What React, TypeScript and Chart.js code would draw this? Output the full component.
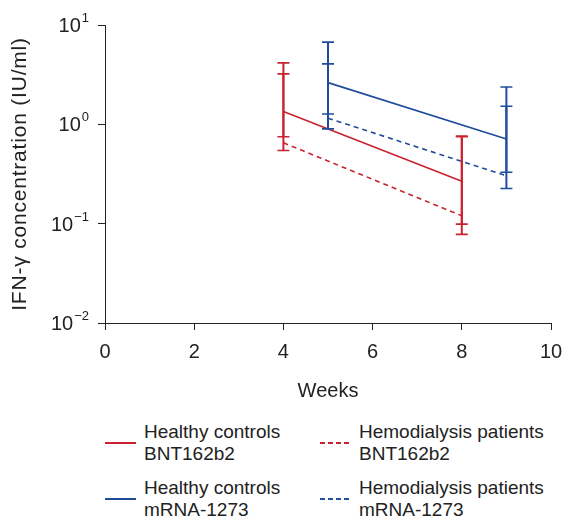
import React, { useEffect, useRef } from "react";
import { Chart, registerables } from "chart.js";

Chart.register(...registerables);

// ---- data ----
const weeksBNT = [4, 8];
const weeksMRNA = [5, 9];

const hcBNT = [1.35, 0.267];
const hcBNTLow = [0.545, 0.099];
const hcBNTHigh = [3.22, 0.75];

const hdBNT = [0.652, 0.12];
const hdBNTLow = [0.75, 0.078];
const hdBNTHigh = [4.16, 0.76];

const hcMRNA = [2.63, 0.71];
const hcMRNALow = [1.27, 0.329];
const hcMRNAHigh = [6.73, 2.38];

const hdMRNA = [1.15, 0.304];
const hdMRNALow = [0.9, 0.226];
const hdMRNAHigh = [4.06, 1.52];

const xTicks = [0, 2, 4, 6, 8, 10];
const yExponents = [1, 0, -1, -2];
const yTitle = "IFN-\u03b3 concentration (IU/ml)";

const RED = "#c8232f";
const BLUE = "#1f4c9c";
const AXIS = "#222222";
const FONT = "'Liberation Sans', Arial, Helvetica, sans-serif";

const series = [
  { label: "Healthy controls BNT162b2", x: weeksBNT, y: hcBNT, lo: hcBNTLow, hi: hcBNTHigh, color: RED, dash: [] as number[] },
  { label: "Hemodialysis patients BNT162b2", x: weeksBNT, y: hdBNT, lo: hdBNTLow, hi: hdBNTHigh, color: RED, dash: [5, 4] },
  { label: "Healthy controls mRNA-1273", x: weeksMRNA, y: hcMRNA, lo: hcMRNALow, hi: hcMRNAHigh, color: BLUE, dash: [] as number[] },
  { label: "Hemodialysis patients mRNA-1273", x: weeksMRNA, y: hdMRNA, lo: hdMRNALow, hi: hdMRNAHigh, color: BLUE, dash: [5, 4] },
];

const CANVAS_W = 564;
const CANVAS_H = 420;
const PLOT_LEFT = 105;
const PLOT_TOP = 25;
const PLOT_BOTTOM = 323;

const errorBarPlugin = {
  id: "errorBars",
  afterDatasetsDraw(chart: any) {
    const { ctx } = chart;
    const xs = chart.scales.x;
    const ys = chart.scales.y;
    ctx.save();
    series.forEach((s) => {
      s.x.forEach((xv, i) => {
        const px = xs.getPixelForValue(xv);
        const pl = ys.getPixelForValue(s.lo[i]);
        const ph = ys.getPixelForValue(s.hi[i]);
        ctx.strokeStyle = s.color;
        ctx.setLineDash([]);
        ctx.lineWidth = 2;
        ctx.beginPath();
        ctx.moveTo(px, ph);
        ctx.lineTo(px, pl);
        ctx.stroke();
        ctx.lineWidth = 1.6;
        ctx.beginPath();
        ctx.moveTo(px - 6, ph);
        ctx.lineTo(px + 6, ph);
        ctx.moveTo(px - 6, pl);
        ctx.lineTo(px + 6, pl);
        ctx.stroke();
      });
    });
    ctx.restore();
  },
};

const yLabelPlugin = {
  id: "yLabels",
  afterDraw(chart: any) {
    const { ctx } = chart;
    const ys = chart.scales.y;
    ctx.save();
    ctx.fillStyle = AXIS;
    ctx.textBaseline = "alphabetic";
    ctx.textAlign = "left";
    const right = chart.chartArea.left - 16;
    yExponents.forEach((e) => {
      const py = ys.getPixelForValue(Math.pow(10, e));
      const base = "10";
      const exp = e < 0 ? "\u2212" + Math.abs(e) : String(e);
      ctx.font = `20px ${FONT}`;
      const wb = ctx.measureText(base).width;
      ctx.font = `13px ${FONT}`;
      const we = ctx.measureText(exp).width;
      const start = right - wb - we - 1;
      ctx.font = `20px ${FONT}`;
      ctx.fillText(base, start, py + 7);
      ctx.font = `13px ${FONT}`;
      ctx.fillText(exp, start + wb + 1, py - 3);
    });
    // y axis title
    const cy = (chart.chartArea.top + chart.chartArea.bottom) / 2;
    ctx.translate(20, cy);
    ctx.rotate(-Math.PI / 2);
    ctx.font = `21px ${FONT}`;
    (ctx as any).letterSpacing = "0.8px";
    ctx.textAlign = "center";
    ctx.textBaseline = "middle";
    ctx.fillText(yTitle, 0, 0);
    ctx.restore();
  },
};

function ChartCanvas() {
  const ref = useRef<HTMLCanvasElement | null>(null);
  useEffect(() => {
    if (!ref.current) return;
    const chart = new Chart(ref.current, {
      type: "line",
      data: {
        datasets: series.map((s) => ({
          label: s.label,
          data: s.x.map((xv, i) => ({ x: xv, y: s.y[i] })),
          borderColor: s.color,
          backgroundColor: s.color,
          borderWidth: 1.6,
          borderDash: s.dash,
          pointRadius: 0,
          fill: false,
          tension: 0,
        })),
      },
      options: {
        responsive: false,
        animation: false,
        devicePixelRatio: 1,
        layout: {
          padding: { left: 0, top: PLOT_TOP, right: 13, bottom: 0 },
        },
        plugins: {
          legend: { display: false },
          tooltip: { enabled: false },
        },
        scales: {
          x: {
            type: "linear",
            min: 0,
            max: 10,
            afterBuildTicks: (scale: any) => {
              scale.ticks = xTicks.map((v) => ({ value: v }));
            },
            afterFit: (scale: any) => {
              scale.height = CANVAS_H - PLOT_BOTTOM;
              scale.paddingLeft = 0;
              scale.paddingRight = 0;
            },
            grid: {
              display: true,
              drawOnChartArea: false,
              drawTicks: true,
              tickLength: 7,
              color: AXIS,
              lineWidth: 1,
            },
            border: { display: true, color: AXIS, width: 1 },
            ticks: {
              color: AXIS,
              font: { family: FONT, size: 20 },
              padding: 10,
              maxRotation: 0,
              autoSkip: false,
            },
            title: {
              display: true,
              text: "Weeks",
              color: AXIS,
              font: { family: FONT, size: 20 },
              padding: { top: 0, bottom: 17 },
            },
          },
          y: {
            type: "logarithmic",
            min: 0.01,
            max: 10,
            afterBuildTicks: (scale: any) => {
              scale.ticks = yExponents.map((e) => ({ value: Math.pow(10, e) }));
            },
            afterFit: (scale: any) => {
              scale.width = PLOT_LEFT;
              scale.paddingTop = 0;
              scale.paddingBottom = 0;
            },
            grid: {
              display: true,
              drawOnChartArea: false,
              drawTicks: true,
              tickLength: 7,
              color: AXIS,
              lineWidth: 1,
            },
            border: { display: true, color: AXIS, width: 1 },
            ticks: { display: false },
            title: { display: false },
          },
        },
      },
      plugins: [errorBarPlugin, yLabelPlugin],
    } as any);
    return () => chart.destroy();
  }, []);
  return (
    <canvas
      ref={ref}
      width={CANVAS_W}
      height={CANVAS_H}
      style={{ display: "block", width: CANVAS_W, height: CANVAS_H }}
    />
  );
}

const legendItems = [
  { lines: ["Healthy controls", "BNT162b2"], color: RED, dashed: false, lineX: 105, textX: 144, top: 421 },
  { lines: ["Hemodialysis patients", "BNT162b2"], color: RED, dashed: true, lineX: 320, textX: 359, top: 421 },
  { lines: ["Healthy controls", "mRNA-1273"], color: BLUE, dashed: false, lineX: 105, textX: 144, top: 477 },
  { lines: ["Hemodialysis patients", "mRNA-1273"], color: BLUE, dashed: true, lineX: 320, textX: 359, top: 477 },
];

export default function App() {
  return (
    <div style={{ position: "absolute", left: 0, top: 0, width: 564, height: 518, background: "#fff", overflow: "hidden" }}>
      <div style={{ position: "absolute", left: 0, top: 0 }}>
        <ChartCanvas />
      </div>
      {legendItems.map((it, i) => (
        <React.Fragment key={i}>
          <div
            style={{
              position: "absolute",
              left: it.lineX,
              top: it.top + 21,
              width: 31,
              height: 1.6,
              background: it.dashed
                ? `repeating-linear-gradient(to right, ${it.color} 0px, ${it.color} 5px, transparent 5px, transparent 8px)`
                : it.color,
            }}
          />
          <div
            style={{
              position: "absolute",
              left: it.textX,
              top: it.top,
              fontFamily: FONT,
              fontSize: 19,
              lineHeight: "22px",
              color: AXIS,
              whiteSpace: "nowrap",
            }}
          >
            {it.lines[0]}
            <br />
            {it.lines[1]}
          </div>
        </React.Fragment>
      ))}
    </div>
  );
}
